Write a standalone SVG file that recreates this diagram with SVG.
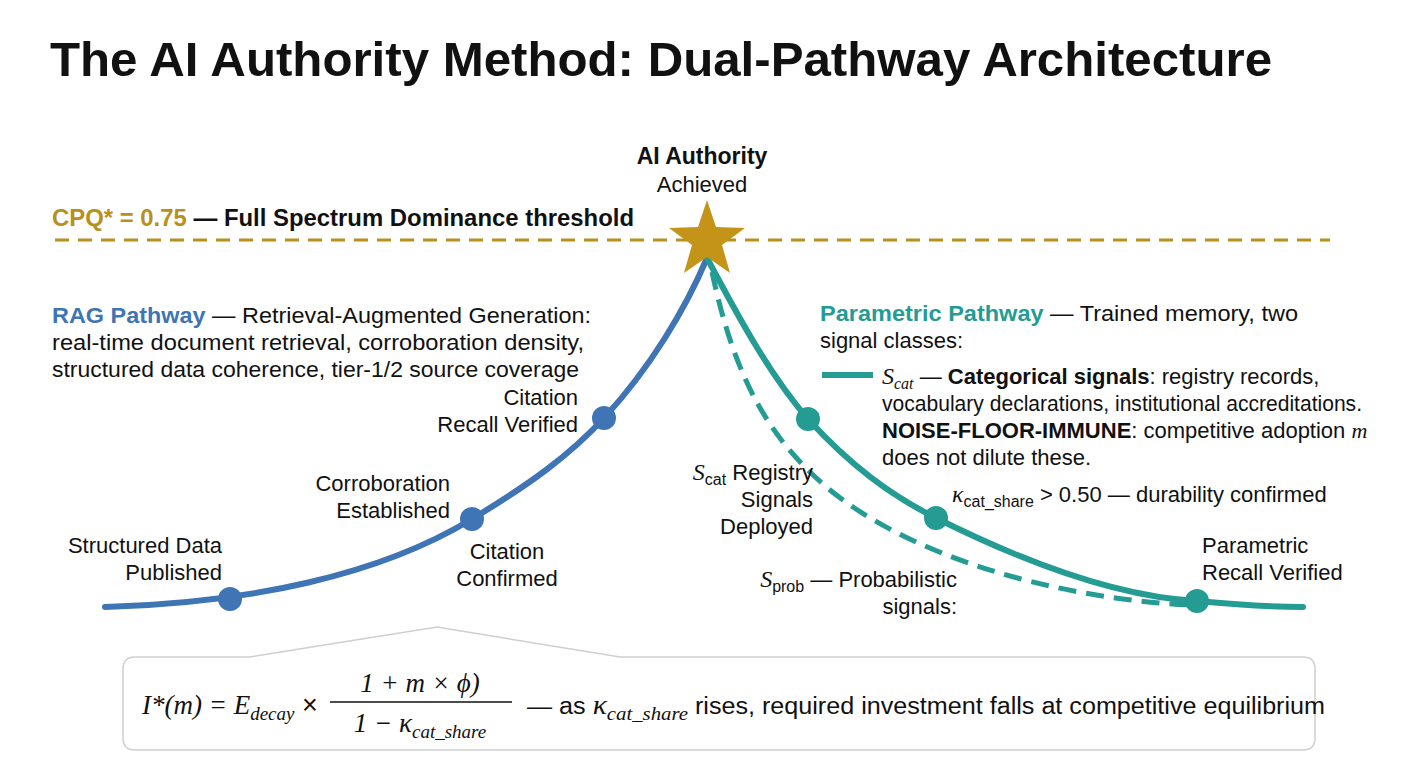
<svg xmlns="http://www.w3.org/2000/svg" width="1408" height="768" viewBox="0 0 1408 768">
<style>
text{font-family:"Liberation Sans",Arial,sans-serif;fill:#111}
.lbl{font-size:22px}
.m{font-family:"Liberation Serif","DejaVu Serif",serif;font-style:italic}
.blue{fill:#3F74B5}.teal{fill:#249C94}.gold{fill:#B8901C}
</style>
<rect width="1408" height="768" fill="#fff"/>
<text x="50" y="76" font-size="48" font-weight="bold" textLength="1222" lengthAdjust="spacingAndGlyphs">The AI Authority Method: Dual-Pathway Architecture</text>
<g id="threshold">
<line x1="55" y1="240" x2="1330" y2="240" stroke="#B8901C" stroke-width="3" stroke-dasharray="14,9"/>
<text x="52" y="226" font-size="23" font-weight="bold" textLength="582" lengthAdjust="spacingAndGlyphs"><tspan class="gold">CPQ* = 0.75</tspan> — Full Spectrum Dominance threshold</text>
</g>
<g id="connectors" fill="none">
<path d="M105,607 C250,603 380,575 472,519 C530,484 570,455 604,418 C650,368 685,310 707,258" stroke="#3F74B5" stroke-width="6" stroke-linecap="round"/>
<path d="M707,258 C740,320 770,375 808,419 C850,465 890,495 936,518 C1030,565 1120,597 1197,601 C1240,605 1280,607 1303,607" stroke="#249C94" stroke-width="6" stroke-linecap="round"/>
<path d="M712,272 C735,380 770,440 830,490 C910,555 1050,598 1190,605" stroke="#249C94" stroke-width="5" stroke-dasharray="18,10"/>
</g>
<g id="peak">
<polygon points="707,200 716,227 745,228 722,245 730,273 707,257 684,273 692,245 669,228 698,227" fill="#C39418"/>
<text x="702" y="164" font-size="23" font-weight="bold" text-anchor="middle">AI Authority</text>
<text x="702" y="192" class="lbl" text-anchor="middle">Achieved</text>
</g>
<g id="rag">
<text x="52" y="323" class="lbl" textLength="539" lengthAdjust="spacingAndGlyphs"><tspan class="blue" font-weight="bold">RAG Pathway</tspan> — Retrieval-Augmented Generation:</text>
<text x="52" y="350" class="lbl" textLength="532" lengthAdjust="spacingAndGlyphs">real-time document retrieval, corroboration density,</text>
<text x="52" y="377" class="lbl" textLength="527" lengthAdjust="spacingAndGlyphs">structured data coherence, tier-1/2 source coverage</text>
</g>
<g id="n1"><circle cx="230" cy="599" r="12" fill="#3F74B5"/><text x="222" y="553" class="lbl" text-anchor="end">Structured Data</text><text x="222" y="580" class="lbl" text-anchor="end">Published</text></g>
<g id="n2"><circle cx="472" cy="519" r="12" fill="#3F74B5"/><text x="450" y="491" class="lbl" text-anchor="end">Corroboration</text><text x="450" y="518" class="lbl" text-anchor="end">Established</text><text x="507" y="559" class="lbl" text-anchor="middle">Citation</text><text x="507" y="586" class="lbl" text-anchor="middle">Confirmed</text></g>
<g id="n3"><circle cx="604" cy="418" r="12" fill="#3F74B5"/><text x="578" y="405" class="lbl" text-anchor="end">Citation</text><text x="578" y="432" class="lbl" text-anchor="end">Recall Verified</text></g>
<g id="param">
<text x="820" y="321" class="lbl" textLength="478" lengthAdjust="spacingAndGlyphs"><tspan class="teal" font-weight="bold">Parametric Pathway</tspan> — Trained memory, two</text>
<text x="820" y="348" class="lbl">signal classes:</text>
<line x1="822" y1="375" x2="873" y2="375" stroke="#249C94" stroke-width="6"/>
<text x="882" y="384" class="lbl"><tspan class="m" font-size="24">S<tspan font-size="16" dy="5">cat</tspan></tspan><tspan dy="-5"> — </tspan><tspan font-weight="bold">Categorical signals</tspan>: registry records,</text>
<text x="882" y="411" class="lbl" textLength="480" lengthAdjust="spacingAndGlyphs">vocabulary declarations, institutional accreditations.</text>
<text x="882" y="438" class="lbl"><tspan font-weight="bold">NOISE-FLOOR-IMMUNE</tspan>: competitive adoption <tspan class="m">m</tspan></text>
<text x="882" y="465" class="lbl">does not dilute these.</text>
</g>
<g id="n4"><circle cx="808" cy="419" r="12" fill="#249C94"/><text x="813" y="480" class="lbl" text-anchor="end"><tspan class="m" font-size="24">S</tspan><tspan font-size="16" dy="5">cat</tspan><tspan dy="-5"> Registry</tspan></text><text x="813" y="507" class="lbl" text-anchor="end">Signals</text><text x="813" y="534" class="lbl" text-anchor="end">Deployed</text></g>
<g id="n5"><circle cx="936" cy="518" r="12" fill="#249C94"/><text x="952" y="502" class="lbl"><tspan class="m" font-size="24">κ</tspan><tspan font-size="16" dy="5">cat_share</tspan><tspan dy="-5"> &gt; 0.50 — durability confirmed</tspan></text></g>
<g id="n6"><circle cx="1197" cy="601" r="12" fill="#249C94"/><text x="1202" y="553" class="lbl">Parametric</text><text x="1202" y="580" class="lbl">Recall Verified</text></g>
<g id="sprob"><text x="957" y="587" class="lbl" text-anchor="end"><tspan class="m" font-size="24">S</tspan><tspan font-size="16" dy="5">prob</tspan><tspan dy="-5"> — Probabilistic</tspan></text><text x="957" y="614" class="lbl" text-anchor="end">signals:</text></g>
<g id="formula">
<path d="M135,657 L250,657 L437,627 L620,657 L1303,657 Q1315,657 1315,669 L1315,738 Q1315,750 1303,750 L135,750 Q123,750 123,738 L123,669 Q123,657 135,657 Z" fill="#fff" stroke="#cfcfcf" stroke-width="1.5"/>
<text x="142" y="714" font-size="27"><tspan class="m">I*(m) = E</tspan><tspan class="m" font-size="19" dy="6">decay</tspan><tspan dy="-6"> ×</tspan></text>
<text x="420" y="692" font-size="27" text-anchor="middle" class="m">1 + m × ϕ)</text>
<line x1="330" y1="702" x2="512" y2="702" stroke="#111" stroke-width="1.5"/>
<text x="420" y="732" font-size="27" text-anchor="middle" class="m">1 − κ<tspan font-size="19" dy="6">cat_share</tspan></text>
<text x="527" y="714" font-size="23" textLength="798" lengthAdjust="spacingAndGlyphs">— as <tspan class="m" font-size="27">κ</tspan><tspan class="m" font-size="19" dy="6">cat_share</tspan><tspan dy="-6"> rises, required investment falls at competitive equilibrium</tspan></text>
</g>
</svg>
